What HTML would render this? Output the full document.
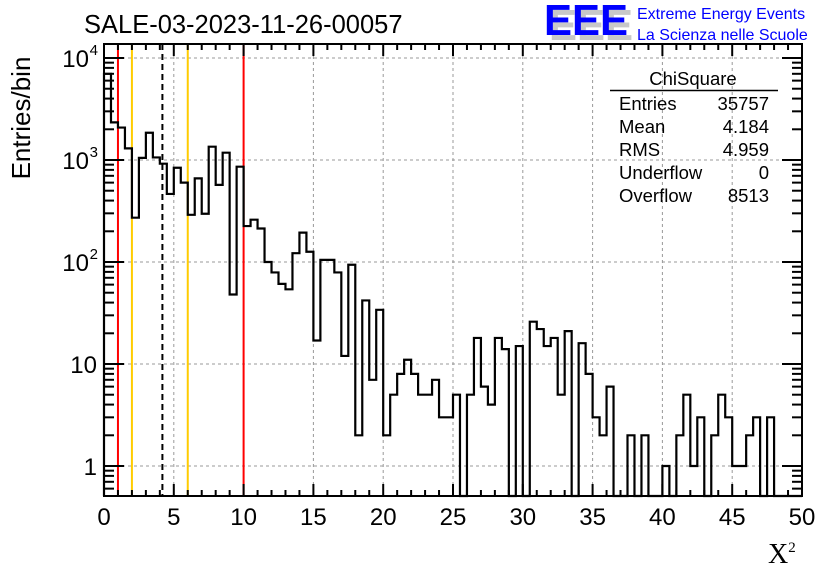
<!DOCTYPE html>
<html><head><meta charset="utf-8"><style>
html,body{margin:0;padding:0;background:#fff}
svg{display:block;font-family:"Liberation Sans",Arial,sans-serif}
</style></head><body>
<svg id="c" width="836" height="572" viewBox="0 0 836 572" xmlns="http://www.w3.org/2000/svg">
<rect width="836" height="572" fill="#fff"/>
<text x="84" y="33" font-size="25.5">SALE-03-2023-11-26-00057</text>
<g>
<text x="549" y="40" font-size="44" font-weight="bold" fill="#c8c8c8" textLength="84" lengthAdjust="spacingAndGlyphs">EEE</text>
<text x="544" y="35" font-size="44" font-weight="bold" fill="#0000ff" textLength="84" lengthAdjust="spacingAndGlyphs">EEE</text>
<text x="637" y="19" font-size="16" fill="#0000ff">Extreme Energy Events</text>
<text x="637" y="40" font-size="16" fill="#0000ff">La Scienza nelle Scuole</text>
</g>
<g id="grid"></g>
<g id="vlines"></g>
<g id="hist"></g>
<g id="axes"></g>
<text x="22" y="110" font-size="26" transform="rotate(-90 30 110)" text-anchor="middle">Entries/bin</text>
<text x="768" y="563" font-size="28" font-family="Liberation Serif,serif">X<tspan font-size="15" dy="-11">2</tspan></text>
<g font-size="18.5">
<text x="693" y="85" text-anchor="middle">ChiSquare</text>
<line x1="610" y1="90.5" x2="778" y2="90.5" stroke="#000" stroke-width="1.5"/>
<text x="619" y="110">Entries</text><text x="769" y="110" text-anchor="end">35757</text>
<text x="619" y="133">Mean</text><text x="769" y="133" text-anchor="end">4.184</text>
<text x="619" y="156">RMS</text><text x="769" y="156" text-anchor="end">4.959</text>
<text x="619" y="179">Underflow</text><text x="769" y="179" text-anchor="end">0</text>
<text x="619" y="202">Overflow</text><text x="769" y="202" text-anchor="end">8513</text>
</g>
</svg>
<script>
const binWidth = 0.5;
const counts = [7000,2340,2080,1300,272,1050,1850,1060,920,465,
840,600,290,660,297,1350,570,1180,48,860,
225,260,213,100,79,61,54,122,194,126,
17,105,105,79,12,94,2,42,7,34,
2,5,8,11,8,5,5,7,3,3,
5,0,5,18,6,4,18,14,0,15,
0,26,22,15,18,5,21,0,16,8,
3,2,6,0,0,2,0,2,0,0,
1,0,2,5,1,3,0,2,5,3,
1,1,2,3,0,3,0,0,0,0];
const xTicks = [0,5,10,15,20,25,30,35,40,45,50];
const yTicks = [1,10,100,1000,10000];
const refLines = [1,2,6,10];
const refColors = ['#ff0000','#ffcc00','#ffcc00','#ff0000'];
const meanValue = 4.184;

const L=104,R=802,T=44,B=496;
const NS='http://www.w3.org/2000/svg';
function X(v){return L+(v-0)/(50-0)*(R-L);}
function Y(v){const lv=Math.log10(Math.max(v,0.5));return 466-(lv)*102;}
function mk(tag,attrs,parent){const e=document.createElementNS(NS,tag);for(const k in attrs)e.setAttribute(k,attrs[k]);parent.appendChild(e);return e;}
const grid=document.getElementById('grid'),axes=document.getElementById('axes'),hist=document.getElementById('hist'),vl=document.getElementById('vlines');
xTicks.forEach(t=>{if(t>0&&t<50){const l=mk('line',{x1:X(t),x2:X(t),y1:T,y2:B,stroke:'#999','stroke-dasharray':'3,3','stroke-width':1},grid);

}});
yTicks.forEach(t=>{const l=mk('line',{x1:L,x2:R,y1:Y(t),y2:Y(t),stroke:'#999','stroke-dasharray':'3,3','stroke-width':1},grid);

});
refLines.forEach((v,i)=>{const l=mk('line',{x1:X(v),x2:X(v),y1:T,y2:B,stroke:refColors[i],'stroke-width':2},vl);

});
const ml=mk('line',{x1:X(meanValue),x2:X(meanValue),y1:T,y2:B,stroke:'#000','stroke-width':2,'stroke-dasharray':'6,4'},vl);


let d='M'+X(0)+','+B;
counts.forEach((c,i)=>{const y=c>0?Y(c):B;d+=' L'+X(i*binWidth)+','+y+' L'+X((i+1)*binWidth)+','+y;});
d+=' L'+X(counts.length*binWidth)+','+B;
const hp=mk('path',{d:d,fill:'none',stroke:'#000','stroke-width':2.2,'stroke-linejoin':'miter'},hist);


const fr=mk('rect',{x:L,y:T,width:R-L,height:B-T,fill:'none',stroke:'#000','stroke-width':2},axes);


for(let v=0;v<=50;v++){const major=v%5===0;const h=major?12:6;
mk('line',{x1:X(v),x2:X(v),y1:B,y2:B-h,stroke:'#000','stroke-width':2},axes);
mk('line',{x1:X(v),x2:X(v),y1:T,y2:T+h,stroke:'#000','stroke-width':2},axes);}
xTicks.forEach(t=>{const tx=mk('text',{x:X(t),y:525,'font-size':24,'text-anchor':'middle'},axes);tx.textContent=t;

});
for(let e=-1;e<=4;e++){for(let m=1;m<=9;m++){const v=m*Math.pow(10,e);const y=Y(v);if(y>B+0.5||y<T-0.5)continue;
const h=m===1?20:10;
mk('line',{x1:L,x2:L+h,y1:y,y2:y,stroke:'#000','stroke-width':2},axes);
mk('line',{x1:R,x2:R-h,y1:y,y2:y,stroke:'#000','stroke-width':2},axes);}}
const yl=['1','10','10²','10³','10⁴'];
yTicks.forEach((t,i)=>{let tx;
if(t>=100){tx=mk('text',{x:89,y:Y(t)+9,'font-size':24,'text-anchor':'end'},axes);tx.textContent='10';
const s=mk('text',{x:98,y:Y(t)-3,'font-size':15,'text-anchor':'end'},axes);s.textContent=String(Math.round(Math.log10(t)));}
else{tx=mk('text',{x:97,y:Y(t)+9,'font-size':24,'text-anchor':'end'},axes);tx.textContent=yl[i];}

});
</script>
</body></html>
